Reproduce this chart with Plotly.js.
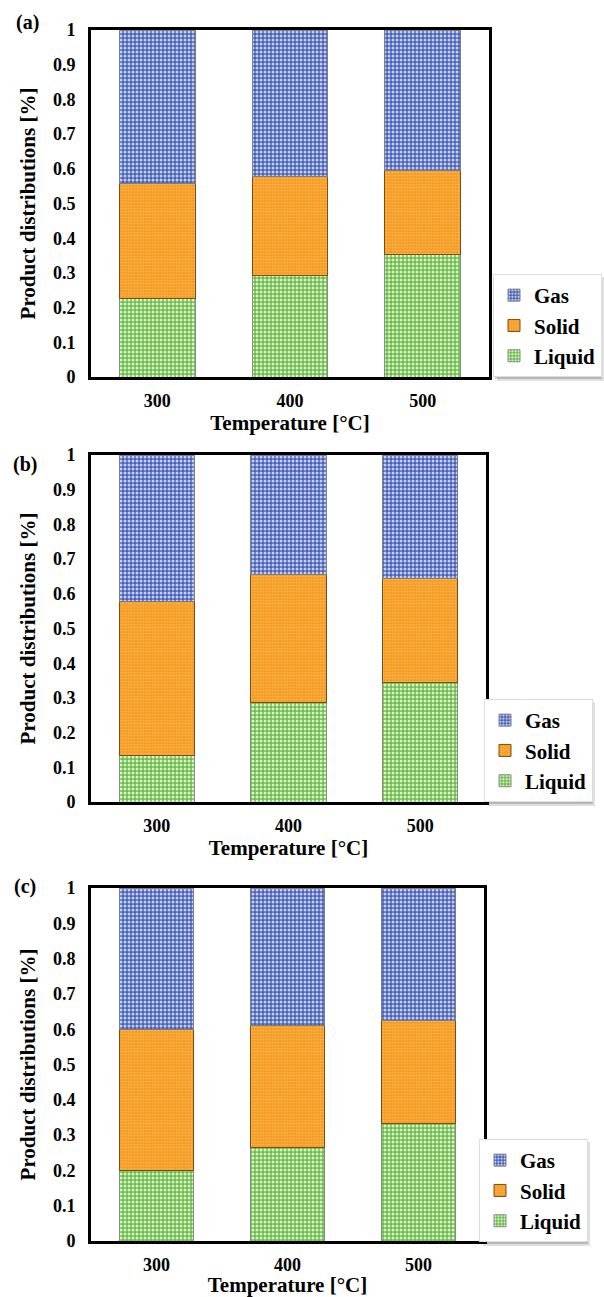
<!DOCTYPE html>
<html>
<head>
<meta charset="utf-8">
<script src="https://cdn.plot.ly/plotly-3.0.1.min.js"></script>
<style>
  html, body { margin: 0; padding: 0; background: #ffffff; }
  #chart { width: 604px; height: 1297px; }
</style>
</head>
<body>
<div id="chart"></div>
<script>
// ---- Data (fractions) ----
const temperatures = ['300', '400', '500'];
const seriesNames = ['Liquid', 'Solid', 'Gas'];
const panelLabels = ['(a)', '(b)', '(c)'];
const yTickValues = [0, 0.1, 0.2, 0.3, 0.4, 0.5, 0.6, 0.7, 0.8, 0.9, 1];
const yTickLabels = ['0', '0.1', '0.2', '0.3', '0.4', '0.5', '0.6', '0.7', '0.8', '0.9', '1'];

// Panel (a)
const liquidA = [0.227, 0.293, 0.352];
const solidA  = [0.331, 0.284, 0.242];
const gasA    = [0.442, 0.423, 0.406];
// Panel (b)
const liquidB = [0.133, 0.286, 0.345];
const solidB  = [0.444, 0.371, 0.299];
const gasB    = [0.423, 0.343, 0.356];
// Panel (c)
const liquidC = [0.199, 0.266, 0.333];
const solidC  = [0.400, 0.345, 0.291];
const gasC    = [0.401, 0.389, 0.376];

const panels = [
  { liquid: liquidA, solid: solidA, gas: gasA },
  { liquid: liquidB, solid: solidB, gas: gasB },
  { liquid: liquidC, solid: solidC, gas: gasC }
];

// ---- Styling ----
const W = 604, H = 1297;
const FONT = 'Liberation Serif';
const styles = {
  Liquid: { bg: '#68bd44', fg: '#dcf2d0', size: 4, solidity: 0.45, line: '#8a8a8a' },
  Solid:  { bg: '#f79d26', fg: '#fbbd5e', size: 3, solidity: 0.25, line: '#7a4e16' },
  Gas:    { bg: '#4760bb', fg: '#c6d0f1', size: 4, solidity: 0.45, line: '#7f7f7f' }
};
// pixel boxes of the three plot areas [left, top, right, bottom]
const boxes = [
  [91, 30, 489, 377],
  [91, 455, 486, 802],
  [91, 888, 484, 1241]
];
const legendPos = [
  { x: 493, bottom: 377 },
  { x: 484, bottom: 802 },
  { x: 479, bottom: 1242 }
];
const labelPos = [[27, 22], [25, 464], [25, 886]];

const traces = [];
const layout = {
  width: W, height: H,
  margin: { l: 0, r: 0, t: 0, b: 0, pad: 0 },
  paper_bgcolor: '#ffffff', plot_bgcolor: '#ffffff',
  barmode: 'stack', bargap: 0.43,
  font: { family: FONT, color: '#000000', weight: 'bold' },
  showlegend: true,
  annotations: [],
  shapes: []
};

panels.forEach((p, i) => {
  const n = i === 0 ? '' : String(i + 1);
  const xa = 'x' + n, ya = 'y' + n;
  const lg = 'legend' + n;
  const vals = { Liquid: p.liquid, Solid: p.solid, Gas: p.gas };
  seriesNames.forEach((s) => {
    const st = styles[s];
    traces.push({
      type: 'bar', name: s, x: temperatures, y: vals[s],
      xaxis: xa, yaxis: ya, legend: lg,
      marker: {
        color: st.bg,
        line: { color: st.line, width: 1 },
        pattern: { shape: '.', bgcolor: st.bg, fgcolor: st.fg, size: st.size, solidity: st.solidity, fillmode: 'replace' }
      },
      hoverinfo: 'skip'
    });
  });
  const b = boxes[i];
  layout['xaxis' + n] = {
    domain: [b[0] / W, b[2] / W], anchor: ya,
    type: 'category', showline: true, mirror: true, linecolor: '#000000', linewidth: 3,
    showgrid: false, zeroline: false, ticks: '', ticklabelstandoff: 5,
    tickfont: { family: FONT, size: 18, weight: 'bold' },
    title: { text: 'Temperature [°C]', font: { family: FONT, size: 21, weight: 'bold' }, standoff: 6 },
    fixedrange: true
  };
  layout['yaxis' + n] = {
    domain: [1 - b[3] / H, 1 - b[1] / H], anchor: xa,
    range: [0, 1], showline: true, mirror: true, linecolor: '#000000', linewidth: 3,
    showgrid: false, zeroline: false, ticks: '', ticklabelstandoff: 9,
    tickmode: 'array', tickvals: yTickValues, ticktext: yTickLabels,
    tickfont: { family: FONT, size: 18, weight: 'bold' },
    title: { text: 'Product distributions [%]', font: { family: FONT, size: 21, weight: 'bold' }, standoff: 12 },
    fixedrange: true
  };
  const lp = legendPos[i];
  layout[lg] = {
    x: lp.x / W, xanchor: 'left', y: 1 - lp.bottom / H, yanchor: 'bottom',
    traceorder: 'reversed',
    bgcolor: '#ffffff', bordercolor: '#dddddd', borderwidth: 1,
    font: { family: FONT, size: 21, weight: 'bold', color: '#000000' },
    itemclick: false, itemdoubleclick: false
  };
  // soft drop shadow behind the legend box (decoration)
  [[4, 'rgba(0,0,0,0.12)'], [2, 'rgba(0,0,0,0.18)']].forEach(([off, col]) => {
    layout.shapes.push({
      type: 'rect', xref: 'paper', yref: 'paper', layer: 'above',
      x0: (lp.x + off) / W, x1: Math.min(lp.x + 107 + off, W) / W,
      y0: 1 - (lp.bottom + off) / H, y1: 1 - (lp.bottom - 100) / H,
      fillcolor: col, line: { width: 0 }
    });
  });
  layout.annotations.push({
    xref: 'paper', yref: 'paper', x: labelPos[i][0] / W, y: 1 - labelPos[i][1] / H,
    xanchor: 'center', yanchor: 'middle', showarrow: false,
    text: panelLabels[i], font: { family: FONT, size: 20, weight: 'bold', color: '#000000' }
  });
});

Plotly.newPlot('chart', traces, layout, { displayModeBar: false, staticPlot: true });
</script>
</body>
</html>
